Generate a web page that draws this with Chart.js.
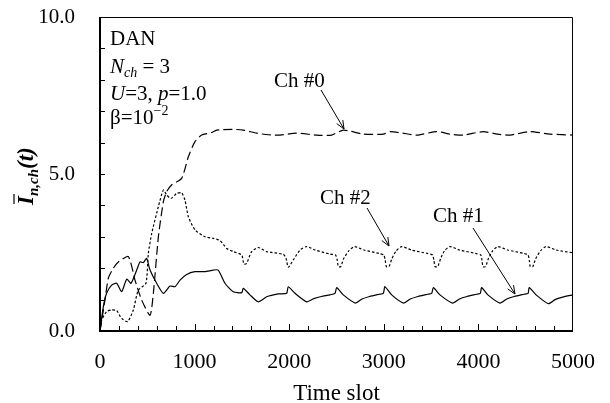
<!DOCTYPE html>
<html>
<head>
<meta charset="utf-8">
<script src="https://cdn.jsdelivr.net/npm/chart.js@4.4.0/dist/chart.umd.min.js"></script>
<style>
html, body { margin: 0; padding: 0; background: #fff; }
</style>
</head>
<body>
<canvas id="myChart" width="610" height="403"></canvas>
<script>
// values
var ch0X = [0, 53, 88, 141, 194, 300, 370, 440, 529, 564, 617, 670, 705, 757, 863, 934, 1004, 1075, 1180, 1233, 1400, 1515, 1656, 1780, 1903, 2079, 2290, 2450, 2572, 2783, 2995, 3065, 3200, 3347, 3559, 3700, 3840, 4051, 4200, 4334, 4545, 4757, 5000];
var ch0Y = [0, 1.0, 1.68, 2.0, 2.2, 2.37, 1.62, 0.99, 0.5, 1.2, 3.0, 4.12, 4.44, 4.65, 4.86, 5.55, 6.03, 6.24, 6.32, 6.4, 6.42, 6.4, 6.3, 6.25, 6.24, 6.3, 6.24, 6.24, 6.4, 6.27, 6.27, 6.35, 6.3, 6.24, 6.35, 6.27, 6.24, 6.35, 6.27, 6.24, 6.35, 6.27, 6.24];

var ch1X = [0, 35, 70, 123, 176, 229, 282, 328, 388, 423, 458, 493, 529, 599, 670, 740, 793, 846, 916, 1004, 1110, 1198, 1250, 1321, 1409, 1498, 1515, 1585, 1673, 1762, 1885, 1973, 1990, 2061, 2185, 2260, 2340, 2431, 2484, 2502, 2572, 2700, 2770, 2850, 2950, 2995, 3012, 3083, 3210, 3280, 3360, 3460, 3506, 3524, 3594, 3727, 3800, 3880, 3980, 4020, 4034, 4100, 4228, 4300, 4380, 4480, 4525, 4538, 4610, 4739, 4810, 4890, 5000];
var ch1Y = [0, 0.77, 1.2, 1.46, 1.52, 1.25, 1.65, 1.52, 1.94, 2.2, 2.18, 2.31, 1.94, 1.52, 1.2, 1.43, 1.41, 1.62, 1.8, 1.89, 1.89, 1.94, 1.94, 1.52, 1.25, 1.22, 1.36, 1.15, 0.93, 1.09, 1.18, 1.2, 1.41, 1.2, 0.93, 1.03, 1.1, 1.15, 1.2, 1.38, 1.15, 0.89, 1.02, 1.1, 1.17, 1.2, 1.41, 1.15, 0.89, 1.02, 1.1, 1.17, 1.2, 1.38, 1.15, 0.89, 1.02, 1.1, 1.17, 1.2, 1.38, 1.15, 0.89, 1.02, 1.1, 1.17, 1.2, 1.38, 1.15, 0.87, 1.0, 1.08, 1.15];

var ch2X = [0, 18, 70, 123, 176, 229, 292, 352, 405, 486, 511, 546, 617, 670, 705, 750, 810, 863, 898, 934, 1004, 1110, 1198, 1268, 1339, 1409, 1498, 1515, 1522, 1550, 1603, 1673, 1762, 1938, 1966, 1990, 2043, 2114, 2185, 2273, 2431, 2490, 2508, 2520, 2545, 2575, 2630, 2690, 2790, 2950, 3000, 3015, 3028, 3055, 3085, 3130, 3190, 3290, 3460, 3515, 3530, 3542, 3570, 3600, 3640, 3700, 3800, 3970, 4025, 4038, 4048, 4075, 4105, 4150, 4205, 4310, 4480, 4525, 4538, 4548, 4575, 4605, 4655, 4715, 4820, 5000];
var ch2Y = [0, 0.35, 0.62, 0.67, 0.65, 0.4, 0.3, 0.67, 1.3, 1.52, 2.47, 3.1, 3.96, 4.49, 4.33, 4.22, 4.38, 4.4, 4.17, 3.64, 3.22, 3.0, 2.95, 2.88, 2.63, 2.53, 2.42, 2.2, 2.13, 2.15, 2.53, 2.66, 2.53, 2.44, 2.32, 2.03, 2.26, 2.58, 2.69, 2.58, 2.45, 2.42, 2.25, 2.05, 2.05, 2.3, 2.55, 2.69, 2.58, 2.47, 2.42, 2.25, 2.05, 2.05, 2.3, 2.55, 2.69, 2.58, 2.47, 2.42, 2.25, 2.05, 2.05, 2.3, 2.55, 2.69, 2.58, 2.47, 2.42, 2.25, 2.05, 2.05, 2.3, 2.55, 2.69, 2.58, 2.47, 2.42, 2.25, 2.05, 2.05, 2.3, 2.55, 2.69, 2.58, 2.49];

var xTicks = [0, 1000, 2000, 3000, 4000, 5000];
var yTicks = [0, 5, 10];

var serif = "'Liberation Serif', 'Times New Roman', serif";

function toPoints(xs, ys){
    var pts = [];
    for (var i = 0; i < xs.length; i++){
        pts.push({x: xs[i], y: ys[i]});
    }
    return pts;
}

// draws a run of text pieces left to right, each with its own font and shift
function richText(ctx, x, y, parts){
    var cx = x;
    for (var i = 0; i < parts.length; i++){
        var p = parts[i];
        ctx.font = p.f;
        ctx.fillText(p.t, cx, y + (p.dy || 0));
        cx += ctx.measureText(p.t).width;
    }
}

function arrow(ctx, x1, y1, x2, y2){
    ctx.beginPath();
    ctx.moveTo(x1, y1);
    ctx.lineTo(x2, y2);
    var a = Math.atan2(y2 - y1, x2 - x1);
    var L = 9, w = 0.4;
    ctx.moveTo(x2 - L * Math.cos(a - w), y2 - L * Math.sin(a - w));
    ctx.lineTo(x2, y2);
    ctx.lineTo(x2 - L * Math.cos(a + w), y2 - L * Math.sin(a + w));
    ctx.stroke();
}

// no extra room for overhanging tick labels, the layout padding decides
function noOverhang(scale){
    scale.paddingTop = 0;
    scale.paddingBottom = 0;
    scale.paddingLeft = 0;
    scale.paddingRight = 0;
}

var decor = {
    id: 'decor',
    afterDraw(chart){
        var ctx = chart.ctx;
        var a = chart.chartArea;
        var xs = chart.scales.x, ys = chart.scales.y;
        ctx.save();
        ctx.strokeStyle = '#000';
        ctx.fillStyle = '#000';

        // frame: thin top/right, heavier left/bottom
        ctx.lineWidth = 1;
        ctx.beginPath();
        ctx.moveTo(a.left, a.top + 0.5);
        ctx.lineTo(a.right - 0.5, a.top + 0.5);
        ctx.lineTo(a.right - 0.5, a.bottom);
        ctx.stroke();
        ctx.lineWidth = 2;
        ctx.beginPath();
        ctx.moveTo(a.left, a.top);
        ctx.lineTo(a.left, a.bottom);
        ctx.lineTo(a.right, a.bottom);
        ctx.stroke();

        // inward ticks
        ctx.lineWidth = 1;
        ctx.beginPath();
        for (var v = 1; v < 10; v++){
            var py = Math.round(ys.getPixelForValue(v)) + 0.5;
            ctx.moveTo(a.left, py);
            ctx.lineTo(a.left + 5, py);
        }
        for (var t = 200; t < 5000; t += 200){
            var px = Math.round(xs.getPixelForValue(t)) + 0.5;
            var len = (t % 1000 === 0) ? 7 : 5;
            ctx.moveTo(px, a.bottom);
            ctx.lineTo(px, a.bottom - len);
        }
        ctx.stroke();

        // legend block
        ctx.textBaseline = 'alphabetic';
        ctx.textAlign = 'left';
        var f = '21px ' + serif, fi = 'italic 21px ' + serif, fs = 'italic 14px ' + serif, fsup = '14px ' + serif;
        var lx = a.left + 10;
        richText(ctx, lx, a.top + 28, [{t: 'DAN', f: f}]);
        richText(ctx, lx, a.top + 56, [{t: 'N', f: fi}, {t: 'ch', f: fs, dy: 4}, {t: ' = 3', f: f}]);
        richText(ctx, lx, a.top + 83, [{t: 'U', f: fi}, {t: '=3, ', f: f}, {t: 'p', f: fi}, {t: '=1.0', f: f}]);
        richText(ctx, lx, a.top + 107, [{t: '\u03b2=10', f: f}, {t: '\u22122', f: fsup, dy: -9}]);

        // channel labels with arrows
        ctx.font = f;
        ctx.fillText('Ch #0', 274, 87);
        ctx.fillText('Ch #2', 320, 204);
        ctx.fillText('Ch #1', 433, 222);
        ctx.lineWidth = 1;
        arrow(ctx, 321, 90, 344, 129);
        arrow(ctx, 367, 208, 389, 246);
        arrow(ctx, 473, 228, 515, 294);

        // y axis title, rotated
        ctx.save();
        ctx.translate(33, 205);
        ctx.rotate(-Math.PI / 2);
        var fb = 'italic bold 23px ' + serif, fbs = 'italic bold 15px ' + serif;
        ctx.font = fb;
        var iw = ctx.measureText('I').width;
        richText(ctx, 0, 0, [{t: 'I', f: fb}, {t: 'n,ch', f: fbs, dy: 5}, {t: '(t)', f: fb}]);
        ctx.lineWidth = 1.2;
        ctx.beginPath();
        ctx.moveTo(1, -19);
        ctx.lineTo(iw + 2, -19);
        ctx.stroke();
        ctx.restore();

        ctx.restore();
    }
};

var ctx = document.getElementById('myChart').getContext('2d');
var myChart = new Chart(ctx, {
    type: 'scatter',
    data: {
        datasets: [
            {
                label: 'Ch #0',
                data: toPoints(ch0X, ch0Y),
                borderColor: '#000',
                borderWidth: 1.2,
                borderDash: [9, 4],
                showLine: true,
                pointRadius: 0,
                tension: 0.2
            },
            {
                label: 'Ch #1',
                data: toPoints(ch1X, ch1Y),
                borderColor: '#000',
                borderWidth: 1.2,
                showLine: true,
                pointRadius: 0,
                tension: 0.2
            },
            {
                label: 'Ch #2',
                data: toPoints(ch2X, ch2Y),
                borderColor: '#000',
                borderWidth: 1.2,
                borderDash: [2.5, 2],
                showLine: true,
                pointRadius: 0,
                tension: 0.2
            }
        ]
    },
    options: {
        responsive: false,
        animation: false,
        devicePixelRatio: 1,
        layout: {
            padding: {top: 17, right: 37, left: 0, bottom: 0}
        },
        plugins: {
            legend: {display: false},
            tooltip: {enabled: false}
        },
        scales: {
            x: {
                type: 'linear',
                min: 0,
                max: 5000,
                afterBuildTicks: function(scale){
                    scale.ticks = xTicks.map(function(v){ return {value: v}; });
                },
                afterFit: function(scale){ scale.height = 72; noOverhang(scale); },
                grid: {display: false, drawTicks: false},
                border: {display: false},
                ticks: {
                    color: '#000',
                    padding: 18,
                    maxRotation: 0,
                    font: {family: serif, size: 22},
                    callback: function(v){ return String(v); }
                },
                title: {
                    display: true,
                    text: 'Time slot',
                    color: '#000',
                    padding: {top: 0, bottom: -5},
                    font: {family: serif, size: 23}
                }
            },
            y: {
                min: 0,
                max: 10,
                afterBuildTicks: function(scale){
                    scale.ticks = yTicks.map(function(v){ return {value: v}; });
                },
                afterFit: function(scale){ scale.width = 100; noOverhang(scale); },
                grid: {display: false, drawTicks: false},
                border: {display: false},
                ticks: {
                    color: '#000',
                    padding: 25,
                    font: {family: serif, size: 21},
                    callback: function(v){ return Number(v).toFixed(1); }
                }
            }
        }
    },
    plugins: [decor]
});
</script>
</body>
</html>
